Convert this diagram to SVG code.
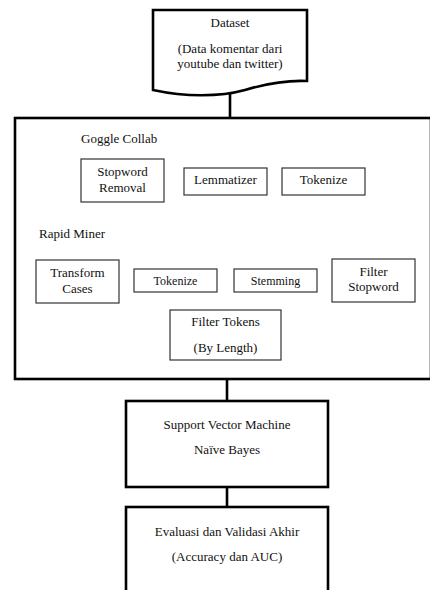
<svg xmlns="http://www.w3.org/2000/svg" width="430" height="590" viewBox="0 0 430 590">
<style>
text{font-family:'Liberation Serif','Times New Roman','DejaVu Serif',serif;font-size:13px;fill:#111;text-anchor:middle}
.big{fill:#fff;stroke:#000;stroke-width:2.6}
.small{fill:#fff;stroke:#333;stroke-width:1.2}
.conn{stroke:#000;stroke-width:2.6;fill:none}
.l{text-anchor:start}
.s{font-size:12px}
</style>
<rect width="430" height="590" fill="#fff"/>
<g id="connectors">
<line class="conn" x1="230" y1="90" x2="230" y2="118"/>
<line class="conn" x1="227" y1="379" x2="227" y2="401"/>
<line class="conn" x1="227" y1="487" x2="227" y2="507"/>
</g>
<g id="dataset">
<path class="big" d="M153,10 H307 V81 C285,80 265,84 245,90 C220,97 185,97 153,90 Z"/>
<text x="230" y="27">Dataset</text>
<text x="230" y="53">(Data komentar dari</text>
<text x="230" y="68">youtube dan twitter)</text>
</g>
<g id="preprocessing">
<rect class="big" x="15" y="118" width="416" height="261"/>
<text class="l" x="81" y="143">Goggle Collab</text>
<text class="l" x="39" y="238">Rapid Miner</text>
</g>
<g id="stopword-removal">
<rect class="small" x="81" y="159" width="83" height="43"/>
<text x="122.5" y="176">Stopword</text>
<text x="122.5" y="192">Removal</text>
</g>
<g id="lemmatizer">
<rect class="small" x="184" y="168" width="83" height="27"/>
<text x="225.5" y="184">Lemmatizer</text>
</g>
<g id="tokenize-gc">
<rect class="small" x="282" y="168" width="83" height="27"/>
<text x="323.5" y="184">Tokenize</text>
</g>
<g id="transform-cases">
<rect class="small" x="36" y="260" width="83" height="43"/>
<text x="77.5" y="277">Transform</text>
<text x="77.5" y="293">Cases</text>
</g>
<g id="tokenize-rm">
<rect class="small" x="134" y="269" width="83" height="23"/>
<text class="s" x="175.5" y="285">Tokenize</text>
</g>
<g id="stemming">
<rect class="small" x="234" y="269" width="83" height="23"/>
<text class="s" x="275.5" y="285">Stemming</text>
</g>
<g id="filter-stopword">
<rect class="small" x="332" y="259" width="83" height="43"/>
<text x="373.5" y="276">Filter</text>
<text x="373.5" y="291">Stopword</text>
</g>
<g id="filter-tokens">
<rect class="small" x="170" y="310" width="111" height="50"/>
<text x="225.5" y="326">Filter Tokens</text>
<text x="225.5" y="352">(By Length)</text>
</g>
<g id="classifier">
<rect class="big" x="126" y="401" width="202" height="86"/>
<text x="227" y="429">Support Vector Machine</text>
<text x="227" y="454">Naïve Bayes</text>
</g>
<g id="evaluation">
<rect class="big" x="126" y="507" width="202" height="100"/>
<text x="227" y="536">Evaluasi dan Validasi Akhir</text>
<text x="227" y="561">(Accuracy dan AUC)</text>
</g>
</svg>
